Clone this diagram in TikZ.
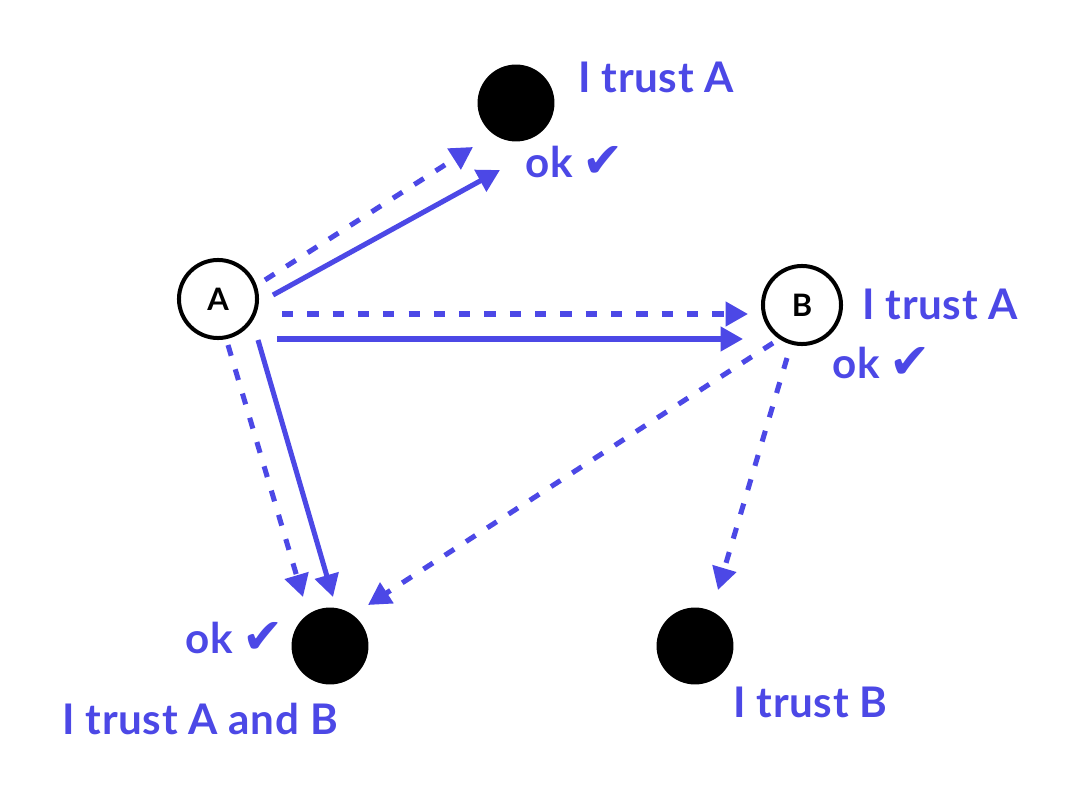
\documentclass[tikz,border=0pt]{standalone}
\usepackage{fontspec}
\setmainfont{Lato}[LetterSpace=1.5]
\newfontfamily\checkfont{DejaVu Sans}
\usetikzlibrary{arrows.meta,positioning}
\definecolor{trustblue}{RGB}{76,72,230}
\newcommand{\okmark}{ok\hspace{7pt}{\checkfont\fontsize{35}{35}\selectfont\symbol{"2714}}}

\begin{document}
\begin{tikzpicture}[x=0.025cm, y=-0.025cm,
    peer/.style={circle, draw=black, line width=2.85pt, fill=white, minimum size=55.5pt, inner sep=0pt, font=\fontsize{22}{22}\selectfont\bfseries},
    dot/.style={circle, fill=black, minimum size=54.7pt, inner sep=0pt},
    lbl/.style={text=trustblue, inner sep=0pt, anchor=base west, font=\fontsize{30}{34}\selectfont\bfseries},
    sig/.style={draw=trustblue, line width=3.6pt, -{Triangle[length=16pt,width=17pt]}},
    hint/.style={sig, dash pattern=on 8pt off 10pt},
  ]
  \useasboundingbox (0,0) rectangle (1088,794);

  % peers and receivers
  \node[peer] (A) at (218,299) {A};
  \node[peer] (B) at (802,305) {B};
  \node[dot] (T) at (516,103) {};
  \node[dot] (L) at (330,646) {};
  \node[dot] (R) at (695,646) {};

  % what each one says
  \node[lbl] (tT)  at (578,93)  {I trust A};
  \node[lbl] (okT) at (525,178) {\okmark};
  \node[lbl] (tB)  at (862,320) {I trust A};
  \node[lbl] (okB) at (832,378) {\okmark};
  \node[lbl] (okL) at (185,653) {\okmark};
  \node[lbl] (tL)  at (62,734)  {I trust A and B};
  \node[lbl] (tR)  at (733,717) {I trust B};

  % messages from A
  \draw[hint] ([shift={(47,-19)}]A.center) -- ([shift={(-43,44)}]T.center);
  \draw[sig]  ([shift={(55,-4)}]A.center)  -- ([shift={(-16,67)}]T.center);
  \draw[hint] ([shift={(64,15)}]A.center)  -- ([shift={(-54,9)}]B.center);
  \draw[sig]  ([shift={(59,40)}]A.center)  -- ([shift={(-59,34)}]B.center);
  \draw[hint] ([shift={(10,46)}]A.center)  -- ([shift={(-27,-49)}]L.center);
  \draw[sig]  ([shift={(40,41)}]A.center)  -- ([shift={(3,-49)}]L.center);

  % messages from B
  \draw[hint] ([shift={(-29,38)}]B.center) -- ([shift={(38,-41)}]L.center);
  \draw[hint] ([shift={(-15,53)}]B.center) -- ([shift={(23,-56)}]R.center);
\end{tikzpicture}
\end{document}
